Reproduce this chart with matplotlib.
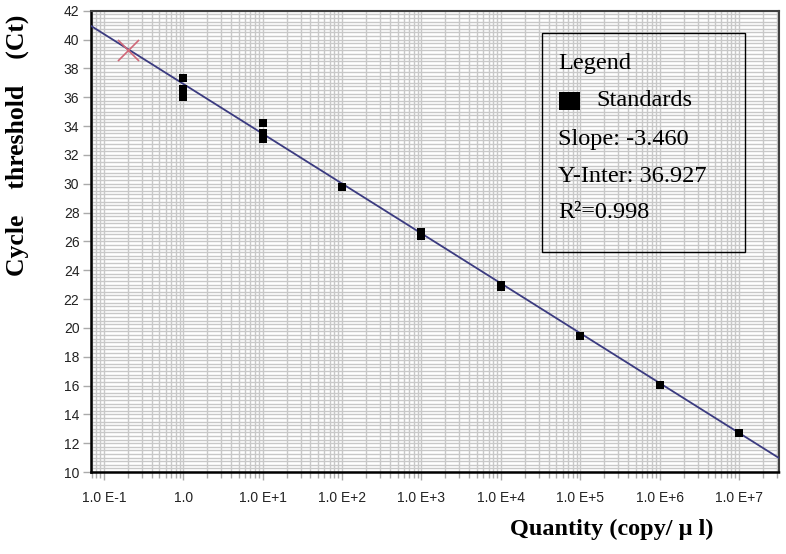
#!/usr/bin/env python3
import numpy as np
import matplotlib
matplotlib.use("Agg")
import matplotlib.pyplot as plt
from matplotlib.patches import Rectangle
from matplotlib.ticker import FixedLocator, FixedFormatter, NullFormatter

# ------------------------------------------------------------------------
# DATA
# ------------------------------------------------------------------------
std_quantity = [1.0, 1.0, 1.0, 10, 10, 10, 100, 1e3, 1e3, 1e4, 1e4, 1e5, 1e6, 1e7]
std_ct       = [37.3, 36.6, 36.0, 34.2, 33.5, 33.1, 29.8, 26.65, 26.4, 23.0, 22.85, 19.45, 16.05, 12.7]
unknown_quantity = [0.2]
unknown_ct       = [39.3]

slope     = -3.460
intercept = 36.927
r2        = 0.998

x_tick_vals   = [1e-1, 1, 1e1, 1e2, 1e3, 1e4, 1e5, 1e6, 1e7]
x_tick_labels = ["1.0 E-1", "1.0", "1.0 E+1", "1.0 E+2", "1.0 E+3",
                 "1.0 E+4", "1.0 E+5", "1.0 E+6", "1.0 E+7"]
y_ticks = list(range(10, 43, 2))

# ------------------------------------------------------------------------
# FIGURE
# ------------------------------------------------------------------------
W, H = 786, 554
fig = plt.figure(figsize=(W / 100, H / 100), dpi=100)
ax = fig.add_axes([90.5 / W, 1 - 472 / H, (778.5 - 90.5) / W, (472 - 10.7) / H])

xmin, xmax = 10 ** -1.1675, 10 ** 7.496
ax.set_xscale("log")
ax.set_xlim(xmin, xmax)
ax.set_ylim(10, 42)

# grid
minor_x = [m * 10.0 ** e for e in range(-2, 8) for m in range(2, 10)]
minor_x = [v for v in minor_x if xmin < v < xmax]
grid_col = "#c8c8c8"
for v in minor_x + x_tick_vals:
    ax.axvline(v, color=grid_col, lw=1.0, zorder=0)
for v in np.arange(10, 42.01, 0.25):
    ax.axhline(v, color=grid_col, lw=1.0, zorder=0)

# regression line
xs = np.logspace(np.log10(xmin), np.log10(xmax), 50)
ax.plot(xs, intercept + slope * np.log10(xs), color="#3b3b80", lw=1.3, zorder=3)

# points
ax.scatter(std_quantity, std_ct, marker="s", s=38, color="black", zorder=4, linewidths=0)
ax.scatter(unknown_quantity, unknown_ct, marker="x", s=230, color="#d06878", lw=1.2, zorder=4)

# ticks
ax.xaxis.set_major_locator(FixedLocator(x_tick_vals))
ax.xaxis.set_major_formatter(FixedFormatter(x_tick_labels))
ax.xaxis.set_minor_locator(FixedLocator(minor_x))
ax.xaxis.set_minor_formatter(NullFormatter())
ax.set_yticks(y_ticks)
ax.tick_params(axis="both", which="major", direction="out", length=6, width=1,
               color="#aaaaaa", labelsize=10, labelcolor="#222222")
ax.tick_params(axis="x", which="major", pad=8)
ax.tick_params(axis="y", which="major", pad=2)
ax.tick_params(axis="x", which="minor", direction="out", length=4, width=1, color="#aaaaaa")
for lab in ax.get_xticklabels() + ax.get_yticklabels():
    lab.set_family("Liberation Sans")

# frame
for s in ("left", "bottom"):
    ax.spines[s].set_linestyle((0, (2, 1)))
    ax.spines[s].set_linewidth(1.8)
    ax.spines[s].set_color("black")
for s in ("top", "right"):
    ax.spines[s].set_linewidth(1.5)
    ax.spines[s].set_color("#404040")

# axis titles
fig.text(17 / W, 1 - 145 / H, "Cycle    threshold    (Ct)", rotation=90,
         ha="center", va="center", family="Liberation Serif", weight="bold", fontsize=18.5)
fig.text(612 / W, 1 - 529 / H, "Quantity (copy/ μ l)", ha="center", va="center",
         family="Liberation Serif", weight="bold", fontsize=17.5)

# legend box (transparent, drawn by hand)
fig.patches.append(Rectangle((541.7 / W, 1 - 251.7 / H), (745 - 541.7) / W, (251.7 - 33.3) / H,
                             transform=fig.transFigure, fill=False, edgecolor="black", lw=1.0))
fig.patches.append(Rectangle((559 / W, 1 - 110.5 / H), 21 / W, 18 / H,
                             transform=fig.transFigure, facecolor="black", edgecolor="none"))
legend_font = dict(family="Liberation Serif", fontsize=17.5, va="center", ha="left")
fig.text(558 / W, 1 - 63 / H, "Legend", **legend_font)
fig.text(596 / W, 1 - 101 / H, "Standards", **legend_font)
fig.text(558 / W, 1 - 139 / H, f"Slope: {slope:.3f}", **legend_font)
fig.text(558 / W, 1 - 176 / H, f"Y-Inter: {intercept:.3f}", **legend_font)
fig.text(558 / W, 1 - 212 / H, f"R²={r2:.3f}", **legend_font)

fig.savefig("out.png", dpi=100)
